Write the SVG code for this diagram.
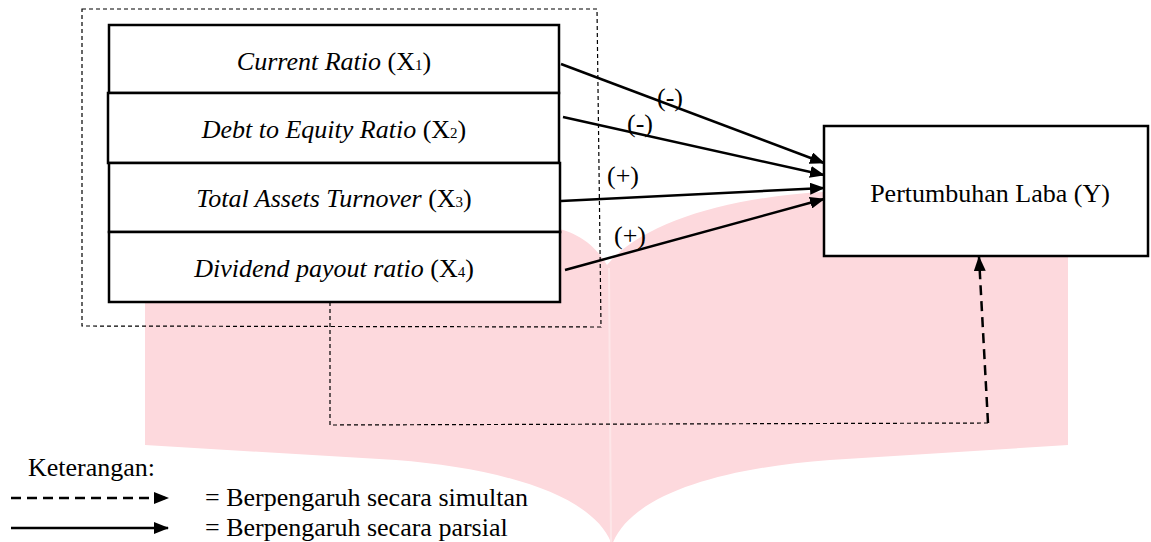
<svg xmlns="http://www.w3.org/2000/svg" width="1151" height="542" viewBox="0 0 1151 542">
  <style>
    .t { font-family: "Liberation Serif", "Times New Roman", serif; font-size: 26px; fill: #000; }
    .i { font-style: italic; }
    .sub { font-size: 15px; }
    .box { fill: #fff; stroke: #000; stroke-width: 2.5; }
    .solid { stroke: #000; stroke-width: 2.5; fill: none; }
    .thin-dash { stroke: #000; stroke-width: 1.2; fill: none; stroke-dasharray: 4 3; }
    .thick-dash { stroke: #000; stroke-width: 2.5; fill: none; stroke-dasharray: 10 6; }
    .lbl { font-family: "Liberation Serif", "Times New Roman", serif; font-size: 26px; fill: #000; }
  </style>
  <defs>
    <marker id="ah" markerUnits="userSpaceOnUse" viewBox="0 0 15 12" markerWidth="15" markerHeight="12" refX="14" refY="6" orient="auto">
      <path d="M0,0 L15,6 L0,12 z" fill="#000"/>
    </marker>
  </defs>
  <rect width="1151" height="542" fill="#fff"/>
  <!-- watermark -->
  <g id="watermark">
    <path d="M145,228 L540,226 C575,228 595,245 607,265 C640,225 720,198 823,192 L1068,188 L1068,445 L830,460 C720,468 630,495 612,545 C595,495 500,468 396,460 L145,445 Z" fill="#fdd9dd"/>
    <line x1="609" y1="268" x2="611" y2="542" stroke="#fde6e8" stroke-width="2"/>
  </g>
  <!-- simultaneous group frame -->
  <g id="frame">
    <polygon points="82,9 597,9 601,327 82,326" class="thin-dash"/>
  </g>
  <g id="x1">
    <rect x="109" y="25" width="450" height="68" class="box"/>
    <text x="334" y="70" text-anchor="middle" class="t"><tspan class="i">Current Ratio</tspan> (X<tspan class="sub">1</tspan>)</text>
  </g>
  <g id="x2">
    <rect x="108" y="93" width="451" height="70" class="box"/>
    <text x="334" y="138" text-anchor="middle" class="t"><tspan class="i">Debt to Equity Ratio</tspan> (X<tspan class="sub">2</tspan>)</text>
  </g>
  <g id="x3">
    <rect x="109" y="163" width="451" height="69" class="box"/>
    <text x="334" y="207" text-anchor="middle" class="t"><tspan class="i">Total Assets Turnover</tspan> (X<tspan class="sub">3</tspan>)</text>
  </g>
  <g id="x4">
    <rect x="109" y="232" width="451" height="70" class="box"/>
    <text x="334" y="277" text-anchor="middle" class="t"><tspan class="i">Dividend payout ratio</tspan> (X<tspan class="sub">4</tspan>)</text>
  </g>
  <g id="y">
    <rect x="824" y="126" width="324" height="130" class="box"/>
    <text x="990" y="202" text-anchor="middle" class="t">Pertumbuhan Laba (Y)</text>
  </g>
  <g id="connectors">
    <line x1="561" y1="64" x2="824" y2="163" class="solid" marker-end="url(#ah)"/>
    <line x1="563" y1="117" x2="824" y2="175" class="solid" marker-end="url(#ah)"/>
    <line x1="561" y1="201" x2="824" y2="188" class="solid" marker-end="url(#ah)"/>
    <line x1="565" y1="270" x2="824" y2="199" class="solid" marker-end="url(#ah)"/>
    <polyline points="330,302 330,425 988,423" class="thin-dash"/>
    <line x1="988" y1="423" x2="979" y2="257" class="thick-dash" marker-end="url(#ah)"/>
    <text x="670" y="106" text-anchor="middle" class="lbl">(-)</text>
    <text x="640" y="132" text-anchor="middle" class="lbl">(-)</text>
    <text x="623" y="184" text-anchor="middle" class="lbl">(+)</text>
    <text x="630" y="244" text-anchor="middle" class="lbl">(+)</text>
  </g>
  <g id="legend">
    <text x="28" y="476" class="t">Keterangan:</text>
    <line x1="11" y1="498" x2="168" y2="498" class="thick-dash" marker-end="url(#ah)"/>
    <text x="205" y="506" class="t">= Berpengaruh secara simultan</text>
    <line x1="11" y1="528" x2="168" y2="528" class="solid" marker-end="url(#ah)"/>
    <text x="205" y="536" class="t">= Berpengaruh secara parsial</text>
  </g>
</svg>
